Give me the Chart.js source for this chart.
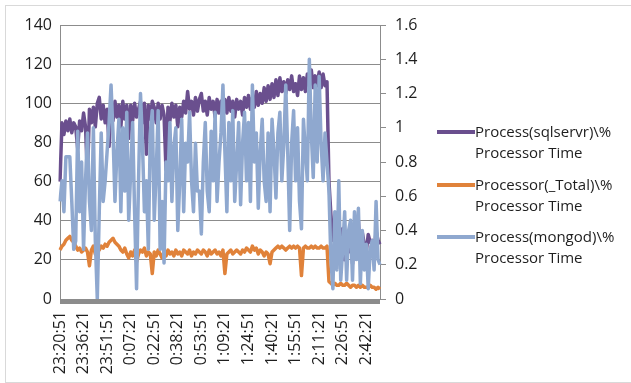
<!DOCTYPE html>
<html lang="en">

<head>
    <meta charset="UTF-8" />
    <title>Processor Time</title>
    <script src="https://cdn.jsdelivr.net/npm/chart.js"></script>
    <style>
        body { margin: 0; background: #fff; }
        #wrap { position: relative; width: 631px; height: 383px; }
        #frame { position: absolute; left: 5px; top: 5px; width: 630px; height: 376px; border: 1px solid #d9d9d9; }
        #legend { position: absolute; left: 437px; top: 0; font-family: "Open Sans", sans-serif; font-size: 15px; color: #1e1e1e; }
        .item { position: absolute; left: 0; width: 200px; line-height: 21px; }
        .swatch { position: absolute; left: 0; top: 9px; width: 38px; height: 4px; }
        .text { position: absolute; left: 38px; top: 0; white-space: nowrap; }
    </style>
</head>

<body>
    <div id="wrap">
        <div id="frame"></div>
        <canvas id="grafica"></canvas>
        <div id="legend"></div>
    </div>

    <script>
        // tick labels, one every 12 samples
        const tickLabels = ["23:20:51", "23:36:21", "23:51:51", "0:07:21", "0:22:51", "0:38:21", "0:53:51",
            "1:09:21", "1:24:51", "1:40:21", "1:55:51", "2:11:21", "2:26:51", "2:42:21"];
        const samplesPerTick = 12;

        const seriesNames = ["Process(sqlservr)\\%", "Processor(_Total)\\%", "Process(mongod)\\%"];
        const seriesSub = "Processor Time";
        const seriesColors = ["#6a4f8e", "#e0823a", "#8fa8cf"];

        // Process(sqlservr), left axis
        const sqlservr = [
            60, 90, 84, 91, 86, 92, 85, 90, 88, 77, 91, 86,
            95, 88, 62, 97, 90, 98, 88, 100, 103, 92, 99, 90,
            97, 78, 100, 91, 101, 93, 99, 88, 101, 92, 99, 82,
            99, 91, 100, 93, 97, 101, 90, 100, 74, 99, 92, 101,
            98, 90, 100, 92, 99, 94, 66, 98, 91, 100, 93, 99,
            88, 98, 93, 101, 95, 106, 97, 101, 94, 103, 96, 102,
            105, 96, 101, 94, 103, 97, 101, 93, 102, 95, 101, 96,
            102, 95, 103, 96, 101, 93, 102, 97, 101, 94, 103, 98,
            104, 97, 103, 98, 106, 99, 105, 100, 108, 101, 109, 102,
            110, 103, 112, 104, 113, 106, 111, 105, 112, 107, 114, 106,
            110, 104, 114, 107, 113, 106, 115, 109, 117, 108, 114, 109,
            116, 108, 115, 109, 111, 60, 43, 30, 38, 22, 35, 25,
            36, 20, 30, 24, 38, 18, 32, 26, 40, 22, 34, 28,
            24, 33, 29, 30, 22, 35, 30, 28
        ];

        // Processor(_Total), left axis
        const total = [
            25, 27, 28, 30, 31, 32, 30, 29, 27, 25, 26, 24,
            25, 26, 24, 17, 25, 27, 23, 26, 25, 27, 26, 28,
            27, 29, 30, 31, 29, 28, 27, 25, 24, 26, 23, 21,
            24, 22, 25, 19, 23, 25, 24, 26, 22, 24, 23, 13,
            24, 22, 25, 23, 21, 24, 22, 25, 23, 24, 22, 25,
            23, 24, 22, 25, 24, 23, 25, 22, 24, 23, 25, 24,
            23, 25, 24, 22, 25, 23, 24, 25, 23, 24, 22, 25,
            13, 23, 24, 25, 23, 24, 25, 24, 23, 25, 24, 26,
            25, 24, 27, 25, 26, 23, 25, 24, 22, 24, 23, 18,
            24, 25, 26, 27, 26, 27, 26, 25, 26, 27, 26, 27,
            26, 27, 26, 12, 26, 27, 26, 26, 27, 26, 27, 26,
            26, 27, 26, 26, 27, 9, 8, 7, 8, 7, 7, 8,
            7, 7, 8, 7, 6, 7, 7, 6, 7, 6, 7, 6,
            6, 6, 7, 6, 6, 5, 6, 5
        ];

        // Process(mongod), right axis
        const mongod = [
            0.57, 0.69, 0.51, 0.83, 0.83, 0.83, 0.57, 0.29, 0.34, 0.98, 0.51, 0.80,
            0.29, 0.69, 0.97, 0.57, 0.40, 1.00, 0.34, 0.00, 0.51, 0.97, 0.57, 0.69,
            0.86, 1.03, 1.25, 0.97, 0.57, 0.86, 1.05, 0.51, 1.00, 0.63, 1.09, 0.46,
            0.74, 1.03, 0.51, 0.06, 0.69, 1.20, 0.91, 0.51, 0.69, 0.29, 0.97, 1.10,
            0.46, 0.74, 1.10, 0.29, 0.57, 0.21, 0.80, 0.69, 1.03, 0.57, 0.89, 1.00,
            0.40, 0.69, 1.05, 0.51, 0.91, 0.80, 1.09, 0.69, 0.51, 0.91, 0.63, 0.63,
            0.38, 0.80, 1.03, 0.63, 0.51, 0.98, 0.69, 1.09, 0.57, 0.80, 0.97, 1.25,
            0.86, 0.51, 1.03, 0.69, 1.10, 0.57, 0.80, 1.03, 0.55, 0.91, 1.09, 0.69,
            1.03, 0.57, 1.25, 0.80, 0.97, 0.53, 0.86, 1.05, 0.69, 0.57, 0.97, 0.51,
            1.05, 0.86, 0.59, 0.97, 1.09, 0.69, 0.90, 1.25, 0.86, 0.40, 0.91, 1.10,
            0.69, 1.00, 0.57, 0.41, 1.05, 0.86, 0.69, 1.40, 0.97, 0.71, 1.25, 0.80,
            1.30, 0.91, 0.69, 0.97, 0.80, 0.63, 0.23, 0.06, 0.51, 0.17, 0.69, 0.11,
            0.29, 0.51, 0.11, 0.40, 0.46, 0.11, 0.51, 0.23, 0.53, 0.09, 0.40, 0.17,
            0.32, 0.06, 0.29, 0.34, 0.17, 0.57, 0.23, 0.20
        ];

        // one category per sample, label only every 12th
        const categories = sqlservr.map((v, i) => i % samplesPerTick === 0 ? (tickLabels[i / samplesPerTick] || "") : "");

        Chart.defaults.font.family = '"Open Sans", sans-serif';
        Chart.defaults.font.size = 16;
        Chart.defaults.color = "#1e1e1e";

        // thick gray bar under the plot
        const axisBar = {
            id: "axisBar",
            afterDatasetsDraw(chart) {
                const a = chart.chartArea;
                chart.ctx.save();
                chart.ctx.fillStyle = "#8c8c8c";
                chart.ctx.fillRect(a.left, a.bottom, a.right - a.left, 5);
                chart.ctx.restore();
            }
        };

        const grid = "#8c8c8c";
        const fmt = v => String(Number(v.toFixed(1)));

        const datasets = [sqlservr, total, mongod].map((d, k) => ({
            label: seriesNames[k] + " " + seriesSub,
            data: d,
            borderColor: seriesColors[k],
            backgroundColor: seriesColors[k],
            borderWidth: 3.5,
            pointRadius: 0,
            tension: 0,
            borderJoinStyle: "round",
            yAxisID: k === 2 ? "y2" : "y",
            order: k === 2 ? 0 : (k === 1 ? 1 : 2)
        }));

        new Chart(document.getElementById("grafica"), {
            type: "line",
            data: { labels: categories, datasets },
            plugins: [axisBar],
            options: {
                responsive: true,
                maintainAspectRatio: false,
                animation: false,
                layout: { padding: { top: 25, left: 0, right: 0, bottom: 0 } },
                plugins: { legend: { display: false }, tooltip: { enabled: false } },
                scales: {
                    x: {
                        grid: { display: false, drawTicks: false },
                        border: { display: false },
                        ticks: { autoSkip: false, minRotation: 90, maxRotation: 90, padding: 12 },
                        afterFit: s => { s.height = 84; }
                    },
                    y: {
                        position: "left",
                        min: 0, max: 140,
                        ticks: { stepSize: 20, padding: 8 },
                        grid: { color: grid, drawTicks: false },
                        border: { color: grid },
                        afterFit: s => { s.width = 60; }
                    },
                    y2: {
                        position: "right",
                        min: 0, max: 1.6,
                        ticks: { stepSize: 0.2, padding: 9, callback: fmt },
                        grid: { drawOnChartArea: false, color: grid, tickLength: 6 },
                        border: { color: grid },
                        afterFit: s => { s.width = 251; }
                    }
                }
            }
        });

        // legend with the label split over two lines
        const legend = document.getElementById("legend");
        seriesNames.forEach((name, k) => {
            const item = document.createElement("div");
            item.className = "item";
            item.style.top = (121 + k * 52.5) + "px";
            item.innerHTML = `<span class="swatch" style="background:${seriesColors[k]}"></span>` +
                `<span class="text">${name}<br>${seriesSub}</span>`;
            legend.appendChild(item);
        });
    </script>
</body>

</html>
